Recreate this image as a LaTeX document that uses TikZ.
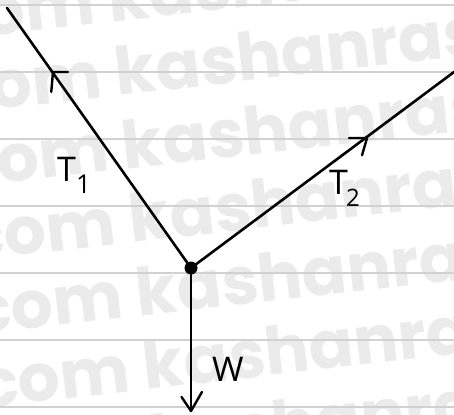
\documentclass[tikz,border=0pt]{standalone}
\usepackage{fontspec}
\setmainfont{Open Sans}
\newfontfamily\wmfont{Poppins}
\begin{document}
\begin{tikzpicture}[x=1pt,y=1pt,
  rule/.style={draw=black!18, line width=1.2pt},
  wmark/.style={anchor=base west, rotate=6.5, inner sep=0pt, text=black!8,
    font=\wmfont\bfseries\fontsize{66}{66}\selectfont},
  force/.style={draw=black, line width=2.6pt, line cap=round},
  chev/.style={draw=black, line width=2.4pt, line cap=round, line join=round},
  lab/.style={inner sep=0pt, font=\fontsize{34}{34}\selectfont}]
\useasboundingbox (0,0) rectangle (454,-414);
\fill[white] (0,0) rectangle (454,-414);
\begin{scope}
\clip (0,0) rectangle (454,-414);
% watermark
\foreach \i in {0,...,6}
  \node[wmark] (wm\i) at (-54+7*\i, -41-73.5*\i) {com kashanras};
% ruled lines
\foreach \y in {5,72,139,206,273,340,407}
  \draw[rule] (0,-\y) -- (454,-\y);
\end{scope}
% diagram
\coordinate (A) at (7,-8);
\coordinate (B) at (454,-72);
\coordinate (C) at (191,-411);
\node[circle, fill=black, inner sep=0pt, minimum size=13pt] (O) at (191,-268) {};
\draw[force] (O.center) -- (A);
\draw[force] (O.center) -- (B);
\draw[force] (O.center) -- (C);
% arrow chevrons
\coordinate (c1) at (53,-72);
\coordinate (c2) at (367,-138);
\draw[chev] ([shift={(0:15)}]c1) -- (c1) -- ([shift={(265:20)}]c1);
\draw[chev] ([shift={(180:18)}]c2) -- (c2) -- ([shift={(254:18)}]c2);
\draw[chev] ([shift={(124:17)}]C) -- (C) -- ([shift={(60:22)}]C);
% labels
\node[lab, anchor=north west] (T1) at (57,-157) {T\raisebox{-12pt}{\fontsize{26}{26}\selectfont 1}};
\node[lab, anchor=north west] (T2) at (329,-170) {T\kern-2pt\raisebox{-12pt}{\fontsize{24}{24}\selectfont 2}};
\node[lab, anchor=north west] (W) at (212,-357) {W};
\end{tikzpicture}
\end{document}
